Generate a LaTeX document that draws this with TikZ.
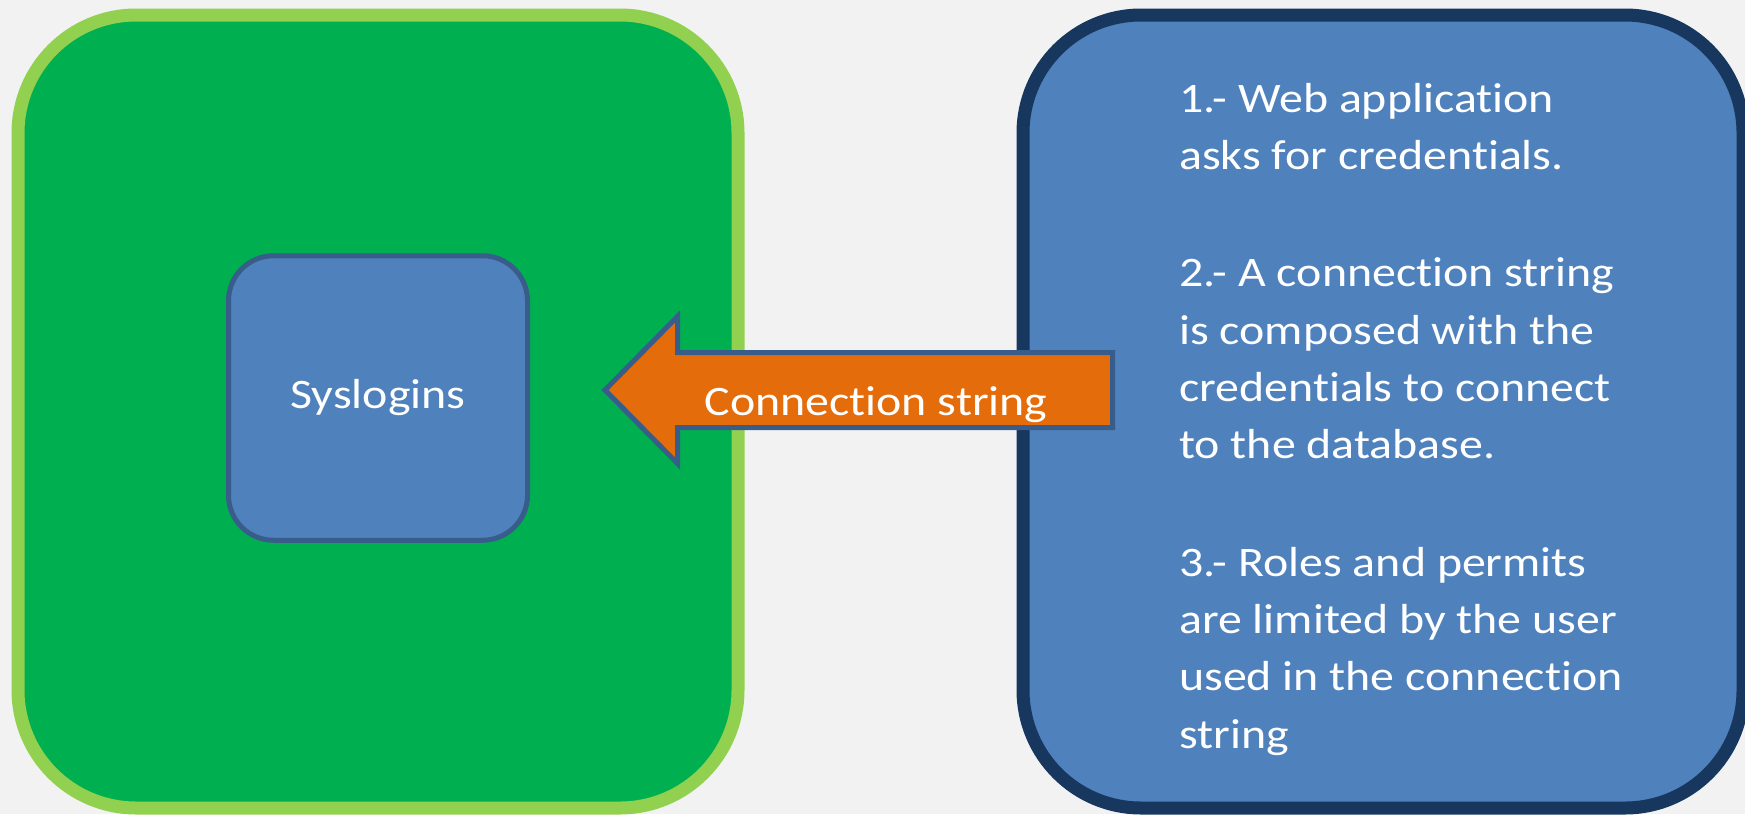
\documentclass[tikz,border=0pt]{standalone}
\usepackage{fontspec}
\setmainfont{Carlito}[Ligatures=NoCommon, FakeStretch=1.14]
\definecolor{fundo}{HTML}{F2F2F2}
\definecolor{verde}{HTML}{00B050}
\definecolor{verdeclaro}{HTML}{92D050}
\definecolor{azul}{HTML}{4F81BD}
\definecolor{azulescuro}{HTML}{17375E}
\definecolor{contorno}{HTML}{385D8A}
\definecolor{laranja}{HTML}{E46C0A}
\begin{document}
\begin{tikzpicture}[x=1pt,y=-1pt,
    texto/.style={text=white, font=\fontsize{42}{57.3}\selectfont, inner sep=0pt},
    painel/.style={line width=13pt, rounded corners=118pt, minimum width=720pt,
        minimum height=793pt, inner sep=0pt},
    caixa/.style={texto, draw=contorno, fill=azul, line width=5pt, rounded corners=45pt,
        minimum width=299pt, minimum height=284.5pt},
    seta/.style={draw=contorno, fill=laranja, line width=5pt, line join=miter}]

    % Fundo
    \fill[fundo] (0,0) rectangle (1745,814);
    \useasboundingbox (0,0) rectangle (1745,814);

    % Servidor
    \node[painel, draw=verdeclaro, fill=verde] (servidor) at (378,411.5) {};
    \node[caixa] (syslogins) at (378,398) {Syslogins};

    % Aplicacao
    \node[painel, draw=azulescuro, fill=azul] (aplicacao) at (1383,411.5) {};
    \node[texto, anchor=base west, align=left] (passos) at (1179,748) {%
        1.- Web application\\
        asks for credentials.\\[60pt]
        2.- A connection string\\
        is composed with the\\
        credentials to connect\\
        to the database.\\[60pt]
        3.- Roles and permits\\
        are limited by the user\\
        used in the connection\\
        string};

    % Seta
    \draw[seta] (605,390) -- (677.5,316.5) -- (677.5,352.5) -- (1112.5,352.5)
        -- (1112.5,427.5) -- (677.5,427.5) -- (677.5,463.5) -- cycle;
    \node[texto, anchor=base] (rotulo) at (876,415) {Connection string};

\end{tikzpicture}
\end{document}
